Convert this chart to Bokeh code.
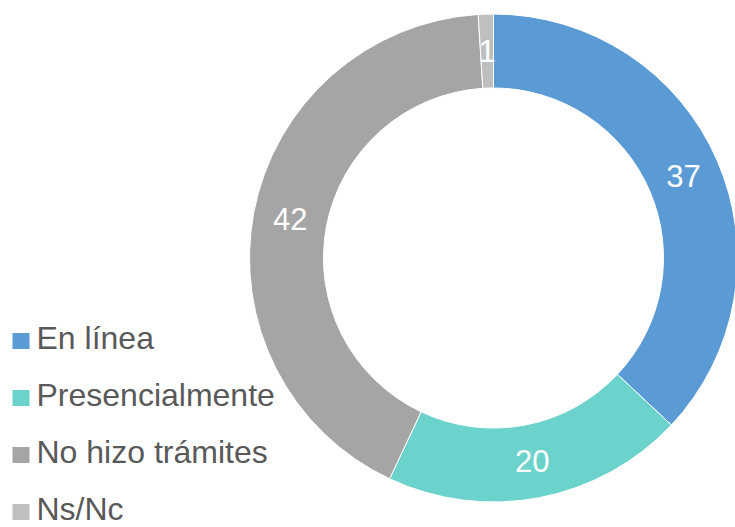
import math
from bokeh.plotting import figure
from bokeh.models import ColumnDataSource
from bokeh.core.properties import value
from bokeh.embed import file_html
from bokeh.resources import INLINE

categories = ["En línea", "Presencialmente", "No hizo trámites", "Ns/Nc"]
values = [37, 20, 42, 1]
colors = ["#5B9BD5", "#6BD3CB", "#A5A5A5", "#BFBFBF"]

W, H = 735, 527
OFF = 0

def sy(y):
    # screen y (reference picture) -> data y
    return H - (y - OFF)

def sx(x):
    return x - OFF

cx, cy = sx(493), sy(257.5)
r_out, r_in = 244, 170

total = sum(values)
starts, ends, lx, ly = [], [], [], []
cum = 0.0
for v in values:
    a0 = math.pi / 2 - 2 * math.pi * cum / total
    a1 = math.pi / 2 - 2 * math.pi * (cum + v) / total
    starts.append(a0)
    ends.append(a1)
    mid = (a0 + a1) / 2
    rm = (r_in + r_out) / 2
    lx.append(cx + rm * math.cos(mid))
    ly.append(cy + rm * math.sin(mid))
    cum += v

src = ColumnDataSource(dict(start=starts, end=ends, color=colors,
                            lx=lx, ly=ly, lab=[str(v) for v in values]))

p = figure(width=W, height=H, x_range=(0, W), y_range=(0, H),
           output_backend="svg", toolbar_location=None, min_border=0)
p.axis.visible = False
p.grid.visible = False
p.outline_line_color = None
p.background_fill_color = "white"

p.annular_wedge(x=cx, y=cy, inner_radius=r_in, outer_radius=r_out,
                start_angle="start", end_angle="end", direction="clock",
                fill_color="color", line_color="white", line_width=1,
                source=src)

p.text(x="lx", y="ly", text="lab", source=src, text_color="white",
       text_font=value("Liberation Sans"), text_font_size="31px",
       text_align="center", text_baseline="middle")

# legend
base0 = 348.5
step = 57
sq_y = [sy(base0 + i * step) + 8 for i in range(len(categories))]
leg_y = [y + 3 for y in sq_y]
leg_src = ColumnDataSource(dict(name=categories, color=colors, ty=leg_y, sqy=sq_y,
                                tx=[sx(36)] * 4, sqx=[sx(20.5)] * 4))
p.rect(x="sqx", y="sqy", width=17, height=16, fill_color="color",
       line_color=None, source=leg_src)
p.text(x="tx", y="ty", text="name", source=leg_src, text_color="#595959",
       text_font=value("Liberation Sans"), text_font_size="32px",
       text_align="left", text_baseline="middle")

open("out.html", "w").write(file_html(p, INLINE))
